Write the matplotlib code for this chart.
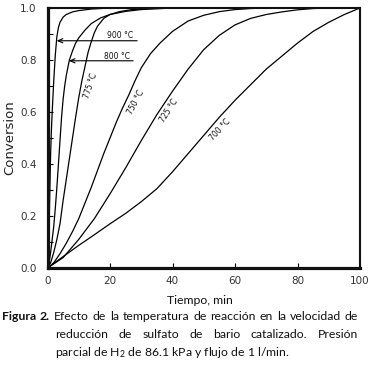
import matplotlib
matplotlib.use("Agg")
import matplotlib.pyplot as plt
from matplotlib.ticker import MultipleLocator

# ---- data ----
t_900 = [0, 0.25, 0.5, 0.75, 1.0, 1.25, 1.5, 1.75, 2.0, 2.5, 3.0, 3.5, 4.0, 5.0, 6.0, 8.0, 10, 14, 20, 100]
c_900 = [0, 0.05, 0.15, 0.30, 0.44, 0.53, 0.60, 0.66, 0.72, 0.82, 0.89, 0.925, 0.945, 0.965, 0.975, 0.985, 0.99, 0.996, 1.0, 1.0]

t_800 = [0, 0.5, 1.0, 1.5, 2.0, 2.5, 3.0, 3.5, 4.0, 4.5, 5.0, 5.5, 6.0, 7.0, 8.0, 9.0, 10, 12, 14, 17, 20, 25, 30, 40, 100]
c_800 = [0, 0.02, 0.06, 0.11, 0.16, 0.23, 0.31, 0.40, 0.49, 0.58, 0.65, 0.70, 0.74, 0.80, 0.835, 0.865, 0.885, 0.915, 0.94, 0.962, 0.975, 0.987, 0.994, 1.0, 1.0]

t_775 = [0, 1, 2, 3, 4, 5, 6, 7, 8, 9, 10, 11, 12, 13, 14, 15, 16, 18, 20, 23, 27, 32, 40, 100]
c_775 = [0, 0.02, 0.06, 0.11, 0.17, 0.26, 0.34, 0.42, 0.50, 0.58, 0.655, 0.72, 0.775, 0.83, 0.87, 0.905, 0.93, 0.96, 0.975, 0.986, 0.994, 0.998, 1.0, 1.0]

t_750 = [0, 2, 4, 6, 8, 10, 12, 14, 16, 18, 20, 22, 24, 26, 28, 30, 33, 36, 40, 45, 50, 55, 60, 65, 70, 100]
c_750 = [0, 0.02, 0.055, 0.095, 0.14, 0.19, 0.25, 0.31, 0.375, 0.44, 0.50, 0.56, 0.615, 0.665, 0.72, 0.77, 0.825, 0.865, 0.91, 0.95, 0.972, 0.986, 0.994, 0.998, 1.0, 1.0]

t_725 = [0, 5, 10, 15, 20, 25, 30, 35, 40, 45, 50, 55, 60, 65, 70, 75, 80, 85, 90, 100]
c_725 = [0, 0.04, 0.11, 0.19, 0.285, 0.385, 0.49, 0.59, 0.68, 0.765, 0.84, 0.895, 0.935, 0.96, 0.975, 0.985, 0.993, 0.998, 1.0, 1.0]

t_700 = [0, 5, 10, 15, 20, 25, 30, 35, 40, 45, 50, 55, 60, 65, 70, 75, 80, 85, 90, 95, 100]
c_700 = [0, 0.044, 0.087, 0.128, 0.17, 0.21, 0.255, 0.305, 0.37, 0.44, 0.51, 0.58, 0.645, 0.705, 0.765, 0.815, 0.865, 0.91, 0.945, 0.975, 1.0]

series = [(t_900, c_900), (t_800, c_800), (t_775, c_775),
          (t_750, c_750), (t_725, c_725), (t_700, c_700)]

curve_labels = ["775 °C", "750 °C", "725 °C", "700 °C"]
curve_label_xy = [(13.8, 0.70), (28.3, 0.638), (39.0, 0.603), (55.2, 0.533)]
curve_label_rot = [72, 62, 57, 47]

arrow_labels = ["900 °C", "800 °C"]
arrow_text_xy = [(23.2, 0.896), (22.4, 0.815)]
arrow_tail_xy = [(28.7, 0.874), (27.4, 0.797)]
arrow_head_xy = [(2.9, 0.874), (6.8, 0.797)]

x_ticks = [0, 20, 40, 60, 80, 100]
y_ticks = [0.0, 0.2, 0.4, 0.6, 0.8, 1.0]

W, H = 371, 366
fig = plt.figure(figsize=(W / 100, H / 100), dpi=100)
ax = fig.add_axes([47.5 / W, 1 - 268 / H, (360 - 47.5) / W, (268 - 8) / H])

for t, c in series:
    ax.plot(t, c, color="black", lw=0.9, solid_capstyle="butt", solid_joinstyle="round")

ax.set_xlim(0, 100)
ax.set_ylim(0, 1.0)
ax.set_xticks(x_ticks)
ax.set_yticks(y_ticks)
ax.yaxis.set_minor_locator(MultipleLocator(0.1))
ax.set_xticklabels([str(v) for v in x_ticks])
ax.set_yticklabels([f"{v:.1f}" for v in y_ticks])
ax.tick_params(which="both", direction="in", width=0.8, colors="black",
               labelcolor="#333333", labelsize=7.5)
ax.tick_params(which="major", length=3.5)
ax.tick_params(which="minor", length=3.5)
ax.tick_params(axis="y", pad=8)
ax.tick_params(axis="x", pad=6)

for s in ["left", "bottom"]:
    ax.spines[s].set_linewidth(2.3)
for s in ["top", "right"]:
    ax.spines[s].set_linewidth(1.5)
for s in ax.spines.values():
    s.set_color("#111111")

for lab, (x, y), r in zip(curve_labels, curve_label_xy, curve_label_rot):
    ax.text(x, y, lab, rotation=r, ha="center", va="center", fontsize=5.5,
            rotation_mode="anchor", color="#111111")

for lab, txy, tail, head in zip(arrow_labels, arrow_text_xy, arrow_tail_xy, arrow_head_xy):
    ax.text(txy[0], txy[1], lab, ha="center", va="center", fontsize=5.5, color="#111111")
    ax.annotate("", xy=head, xytext=tail,
                arrowprops=dict(arrowstyle="->,head_length=0.35,head_width=0.15",
                                lw=0.8, color="black", shrinkA=0, shrinkB=0))

fig.text(10 / W, 1 - 138 / H, "Conversion", rotation=90, ha="center", va="center",
         fontsize=9.5, color="#222222")

cap_font = "Lato"
plt.rcParams["mathtext.fontset"] = "custom"
plt.rcParams["mathtext.rm"] = cap_font
plt.rcParams["mathtext.it"] = cap_font

renderer = fig.canvas.get_renderer()

def width_of(txt):
    return txt.get_window_extent(renderer).width

# fit caption size so the first line naturally spans ~350 px
line1_words = "Figura 2. Efecto de la temperatura de reacción en la velocidad de".split()
probe = fig.text(0, 0, " ".join(line1_words), fontsize=10, family=cap_font)
cap_size = 10 * 350 / width_of(probe)
probe.remove()

fig.text(200 / W, 1 - 300 / H, "Tiempo, min", ha="center", va="center",
         fontsize=cap_size, family=cap_font, color="#111111")

def justify(words, x0, x1, ypx, bold_first=False):
    texts = []
    for i, w in enumerate(words):
        wt = "bold" if (bold_first and i < 2) else "normal"
        texts.append(fig.text(0, 1 - ypx / H, w, fontsize=cap_size, family=cap_font,
                              weight=wt, va="center", ha="left", color="#111111"))
    widths = [width_of(t) for t in texts]
    gap = (x1 - x0 - sum(widths)) / (len(words) - 1)
    x = x0
    for t, w in zip(texts, widths):
        t.set_x(x / W)
        x += w + gap

justify(line1_words, 2, 358, 317, bold_first=True)
justify("reducción de sulfato de bario catalizado. Presión".split(), 55, 358, 334)
line3 = "parcial de H$_2$ de 86.1 kPa y flujo de 1 l/min."
fig.text(55 / W, 1 - 352 / H, line3, fontsize=cap_size, family=cap_font,
         va="center", ha="left", color="#111111")

fig.savefig("out.png", dpi=100)
